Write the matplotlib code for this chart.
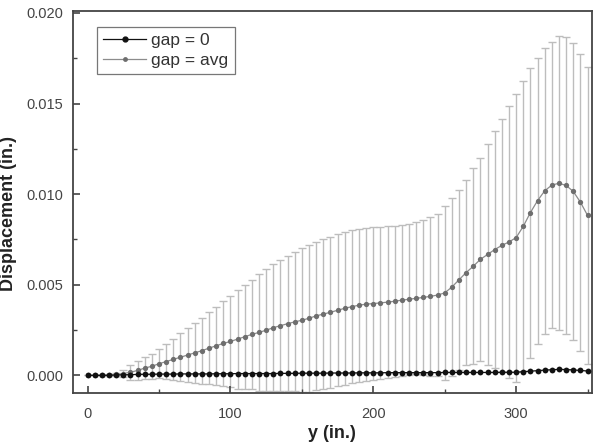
import matplotlib
matplotlib.use("Agg")
import matplotlib.pyplot as plt
from matplotlib.ticker import MultipleLocator

plt.rcParams['font.family'] = ['Liberation Sans', 'DejaVu Sans']

y_pos = list(range(0, 355, 5))

gap0 = [0, 0, 0, 0, 0.00002, 0.00003, 0.00004, 0.00005, 0.00006, 0.00006,
        0.00007, 0.00007, 0.00007, 0.00008, 0.00008, 0.00008, 0.00008, 0.00008, 0.00009, 0.00009,
        0.00009, 0.0001, 0.0001, 0.0001, 0.0001, 0.0001, 0.0001, 0.00011, 0.00011, 0.00011,
        0.00012, 0.00012, 0.00012, 0.00012, 0.00013, 0.00013, 0.00013, 0.00013, 0.00014, 0.00014,
        0.00014, 0.00014, 0.00015, 0.00015, 0.00015, 0.00015, 0.00015, 0.00015, 0.00015, 0.00015,
        0.00016, 0.00016, 0.00016, 0.00016, 0.00016, 0.00016, 0.00016, 0.00016, 0.00017, 0.00017,
        0.00017, 0.0002, 0.00023, 0.00026, 0.00029, 0.00031, 0.00033, 0.00032, 0.0003, 0.00027,
        0.00024]

gap_avg = [0, 0, 0.00001, 0.00002, 0.00005, 0.0001, 0.00017, 0.00027, 0.0004, 0.0005,
           0.00064, 0.00076, 0.00088, 0.001, 0.00112, 0.00124, 0.00136, 0.0015, 0.00163, 0.00176,
           0.00187, 0.002, 0.00213, 0.00226, 0.00237, 0.00249, 0.00263, 0.00274, 0.00285, 0.00295,
           0.00304, 0.00315, 0.00328, 0.00338, 0.00348, 0.00359, 0.0037, 0.00379, 0.00387, 0.00393,
           0.00396, 0.004, 0.00404, 0.00409, 0.00415, 0.0042, 0.00425, 0.0043, 0.00436, 0.00443,
           0.00455, 0.00487, 0.00527, 0.00567, 0.00602, 0.0064, 0.00667, 0.00694, 0.00717, 0.00736,
           0.0076, 0.00822, 0.00898, 0.00964, 0.01018, 0.0105, 0.0106, 0.01048, 0.01015, 0.00956,
           0.00883]

gap_avg_err = [0, 0, 0.00002, 0.00005, 0.0001, 0.0002, 0.0004, 0.00053, 0.0006, 0.0007,
               0.0008, 0.00097, 0.00113, 0.00133, 0.00148, 0.00166, 0.00183, 0.00198, 0.00214, 0.00236,
               0.00253, 0.00273, 0.00288, 0.00302, 0.00324, 0.00337, 0.00352, 0.00363, 0.00372, 0.00384,
               0.00397, 0.00406, 0.0041, 0.00413, 0.00417, 0.00419, 0.00423, 0.00423, 0.00422, 0.00422,
               0.00422, 0.0042, 0.0042, 0.00417, 0.00416, 0.00416, 0.0042, 0.00427, 0.00437, 0.00448,
               0.0048, 0.0049, 0.00495, 0.0051, 0.0054, 0.0056, 0.0061, 0.00652, 0.00698, 0.0075,
               0.00794, 0.008, 0.008, 0.0079, 0.0079, 0.0079, 0.0081, 0.0082, 0.0082, 0.0082,
               0.0082]

x_ticks = [0, 100, 200, 300]
y_ticks = [0.000, 0.005, 0.010, 0.015, 0.020]

fig = plt.figure(figsize=(5.93, 4.45), dpi=100)
ax = fig.add_axes([0.123, 0.117, 0.875, 0.858])

eb = ax.errorbar(y_pos, gap_avg, yerr=gap_avg_err, fmt='none', ecolor='#bdbdbd',
                 elinewidth=1.0, capsize=3, capthick=1.0, zorder=1)
for cap in eb[1]:
    cap.set_color('#a0a0a0')

ax.plot(y_pos, gap_avg, '-', color='#8c8c8c', linewidth=0.9, zorder=2)
ax.plot(y_pos, gap_avg, 'o', color='#6e6e6e', markersize=3.8, markeredgewidth=0, zorder=3)
ax.plot(y_pos, gap0, '-', color='#111111', linewidth=0.9, zorder=4)
ax.plot(y_pos, gap0, 'o', color='#111111', markersize=4.2, markeredgewidth=0, zorder=5)

# legend proxies
h1, = ax.plot([], [], '-o', color='#111111', linewidth=0.9, markersize=3.5, label='gap = 0')
h2, = ax.plot([], [], '-o', color='#8c8c8c', markerfacecolor='#6e6e6e', markeredgewidth=0,
              linewidth=0.9, markersize=3.5, label='gap = avg')
leg = ax.legend(handles=[h1, h2], loc='upper left', bbox_to_anchor=(0.046, 0.958),
                borderaxespad=0, fontsize=12.5, frameon=True, fancybox=False,
                edgecolor='#555555', handlelength=2.5, handletextpad=0.3,
                borderpad=0.35, labelspacing=0.25, labelcolor='#333333')
leg.get_frame().set_linewidth(0.9)

ax.set_xlim(-10.2, 353)
ax.set_ylim(-0.00097, 0.0201)
ax.set_xticks(x_ticks)
ax.set_yticks(y_ticks)
ax.set_yticklabels([f"{v:.3f}" for v in y_ticks])
ax.xaxis.set_minor_locator(MultipleLocator(50))
ax.yaxis.set_minor_locator(MultipleLocator(0.0025))

for s in ax.spines.values():
    s.set_color('#444444')
    s.set_linewidth(1.3)

ax.tick_params(which='both', direction='in', colors='#444444', labelcolor='#444444',
               top=False, right=False)
ax.tick_params(which='major', length=5, width=1.2, labelsize=10.5)
ax.tick_params(which='minor', length=3, width=1.0)
ax.tick_params(axis='x', which='major', pad=10)
ax.tick_params(axis='y', which='major', pad=7)

ax.set_xlabel('y (in.)', fontsize=13, fontweight='bold', color='#222222', labelpad=3)
ax.set_ylabel('Displacement (in.)', fontsize=13, fontweight='bold', color='#222222')
ax.yaxis.set_label_coords(-0.108, 0.47)

fig.savefig('out.png', dpi=100)
